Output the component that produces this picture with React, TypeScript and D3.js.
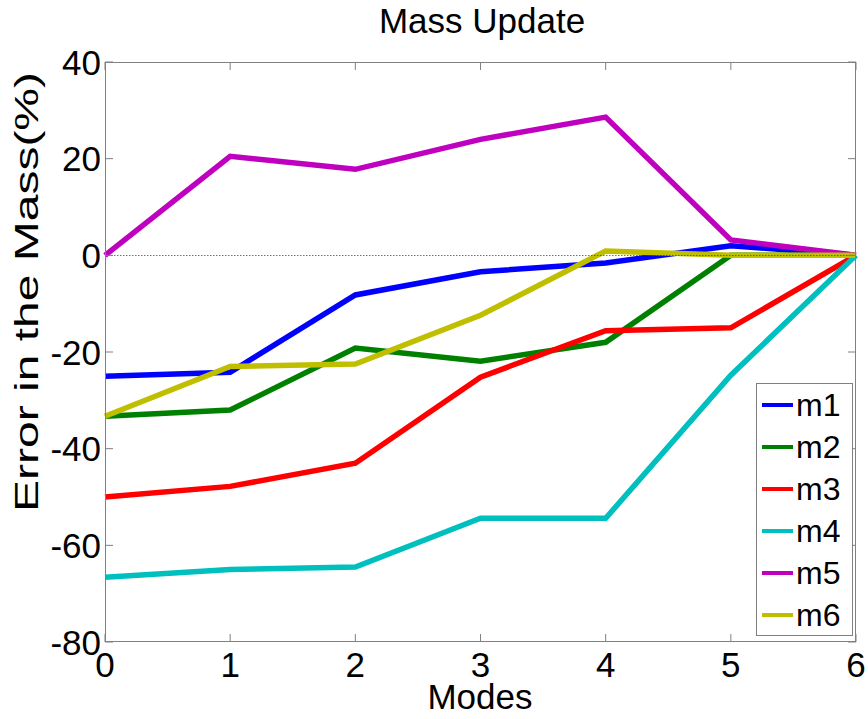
import React from "react";
import * as d3 from "d3";

const modes = [0, 1, 2, 3, 4, 5, 6];
const seriesNames = ["m1", "m2", "m3", "m4", "m5", "m6"];
const seriesColors = ["#0000ff", "#008000", "#ff0000", "#00bfbf", "#bf00bf", "#bfbf00"];
const m1 = [-25, -24.2, -8.2, -3.4, -1.6, 2, 0];
const m2 = [-33.3, -32, -19.2, -21.9, -18, 0, 0];
const m3 = [-50, -47.8, -43, -25.2, -15.6, -15, 0];
const m4 = [-66.6, -65, -64.5, -54.4, -54.4, -24.8, 0];
const m5 = [0, 20.5, 17.8, 24, 28.6, 3.2, 0];
const m6 = [-33.3, -23, -22.5, -12.4, 0.9, 0, 0];
const seriesValues = [m1, m2, m3, m4, m5, m6];
const yTicks = [-80, -60, -40, -20, 0, 20, 40];
const xTicks = [0, 1, 2, 3, 4, 5, 6];

const W = 868;
const H = 719;
const left = 105;
const right = 856;
const top = 62;
const bottom = 642;
const font = "Arial, 'Liberation Sans', sans-serif";

export default function App() {
  const x = d3.scaleLinear().domain([0, 6]).range([left, right]);
  const y = d3.scaleLinear().domain([-80, 40]).range([bottom, top]);
  const line = d3
    .line<number>()
    .x((_, i) => x(modes[i]))
    .y((d) => y(d));

  const legX = 756;
  const legY = 383;
  const legW = 96;
  const legH = 252;
  const rowH = 42;

  return (
    <svg
      width={W}
      height={H}
      style={{ position: "absolute", left: 0, top: 0, background: "#fff" }}
      fontFamily={font}
    >
      <rect x={0} y={0} width={W} height={H} fill="#fff" />
      {/* series */}
      {seriesValues.map((vals, k) => (
        <path
          key={k}
          d={line(vals) || ""}
          fill="none"
          stroke={seriesColors[k]}
          strokeWidth={5.5}
          strokeLinejoin="miter"
        />
      ))}
      {/* zero reference */}
      <line
        x1={x(0)}
        x2={x(6)}
        y1={Math.round(y(0)) + 0.5}
        y2={Math.round(y(0)) + 0.5}
        stroke="#c00000"
        strokeOpacity={0.7}
        strokeWidth={1}
        strokeDasharray="1.5 1.5"
      />
      {/* axes box */}
      <rect
        x={left + 0.5}
        y={top + 0.5}
        width={right - left - 1}
        height={bottom - top - 1}
        fill="none"
        stroke="#808080"
        strokeWidth={1}
      />
      {yTicks.map((t) => (
        <g key={"y" + t}>
          <line x1={left} x2={left + 8} y1={y(t)} y2={y(t)} stroke="#808080" />
          <line x1={right} x2={right - 8} y1={y(t)} y2={y(t)} stroke="#808080" />
          <text
            x={left - 4}
            y={y(t)}
            textAnchor="end"
            dominantBaseline="central"
            fontSize={35}
          >
            {t}
          </text>
        </g>
      ))}
      {xTicks.map((t) => (
        <g key={"x" + t}>
          <line x1={x(t)} x2={x(t)} y1={bottom} y2={bottom - 8} stroke="#808080" />
          <line x1={x(t)} x2={x(t)} y1={top} y2={top + 8} stroke="#808080" />
          <text x={x(t)} y={bottom + 35} textAnchor="middle" fontSize={35}>
            {t}
          </text>
        </g>
      ))}
      <text x={482} y={33} textAnchor="middle" fontSize={35}>
        Mass Update
      </text>
      <text x={480} y={709} textAnchor="middle" fontSize={35}>
        Modes
      </text>
      <text
        transform={`translate(38, 292) rotate(-90)`}
        textAnchor="middle"
        fontSize={34}
        textLength={440}
        lengthAdjust="spacingAndGlyphs"
      >
        Error in the Mass(%)
      </text>
      {/* legend */}
      <rect x={legX + 0.5} y={legY + 0.5} width={legW} height={legH} fill="#fff" stroke="#808080" strokeWidth={1} />
      {seriesNames.map((n, k) => {
        const cy = legY + 22 + rowH * k;
        return (
          <g key={n}>
            <line x1={legX + 6} x2={legX + 37} y1={cy} y2={cy} stroke={seriesColors[k]} strokeWidth={4} />
            <text x={legX + 40} y={cy} dominantBaseline="central" fontSize={32}>
              {n}
            </text>
          </g>
        );
      })}
    </svg>
  );
}
